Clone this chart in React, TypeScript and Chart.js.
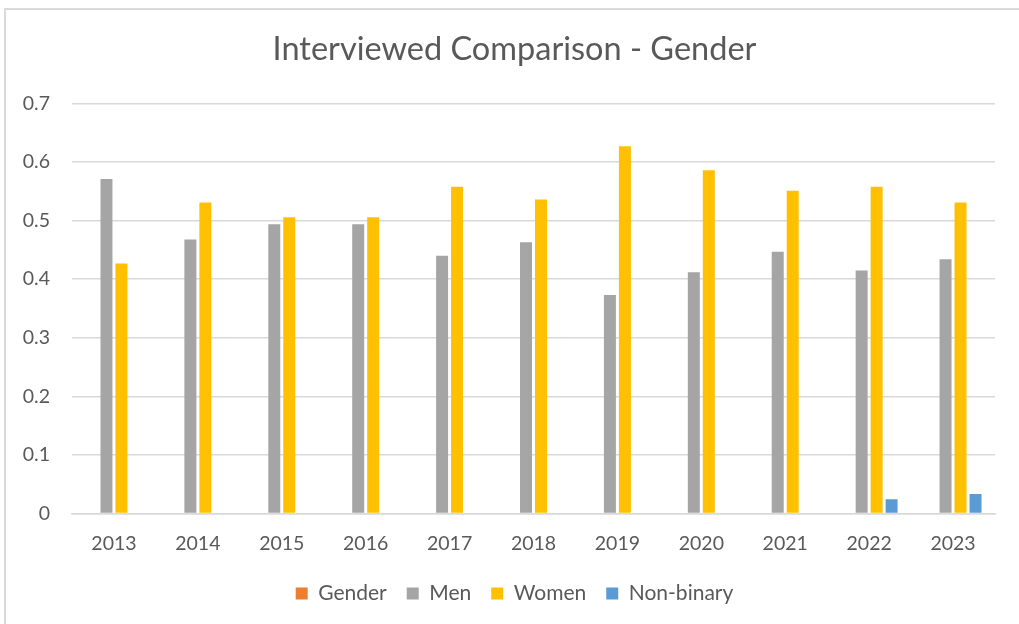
import React, { useEffect, useRef } from "react";
import { Chart, registerables } from "chart.js";

Chart.register(...registerables);

const years = ["2013", "2014", "2015", "2016", "2017", "2018", "2019", "2020", "2021", "2022", "2023"];
const genderValues: (number | null)[] = [null, null, null, null, null, null, null, null, null, null, null];
const menValues = [0.571, 0.468, 0.494, 0.494, 0.44, 0.463, 0.373, 0.412, 0.447, 0.415, 0.434];
const womenValues = [0.427, 0.531, 0.506, 0.506, 0.558, 0.536, 0.627, 0.586, 0.551, 0.558, 0.531];
const nonBinaryValues: (number | null)[] = [null, null, null, null, null, null, null, null, null, 0.0245, 0.0335];

const TEXT = "#595959";
const GRID = "#d9d9d9";
const FONT = "Lato, Carlito, 'Liberation Sans', sans-serif";

// Centre the title and legend on the whole frame rather than on the plot box
const recenterPlugin = {
  id: "recenter",
  afterLayout(chart: any) {
    const shift = 17;
    const boxes = [chart.titleBlock, chart.legend];
    boxes.forEach((b: any) => {
      if (b) {
        b.left += shift;
        b.right += shift;
      }
    });
  },
};

export default function App() {
  const ref = useRef<HTMLCanvasElement | null>(null);

  useEffect(() => {
    document.body.style.margin = "0";
    const ctx = ref.current!.getContext("2d")!;
    const chart = new Chart(ctx, {
      type: "bar",
      data: {
        labels: years,
        datasets: [
          { label: "Gender", data: genderValues, backgroundColor: "#ED7D31" },
          { label: "Men", data: menValues, backgroundColor: "#A5A5A5" },
          { label: "Women", data: womenValues, backgroundColor: "#FFC000" },
          { label: "Non-binary", data: nonBinaryValues, backgroundColor: "#5B9BD5" },
        ],
      },
      plugins: [recenterPlugin],
      options: {
        animation: false,
        responsive: false,
        maintainAspectRatio: false,
        devicePixelRatio: 1,
        layout: { padding: { left: 0, right: 24, top: 0, bottom: 10 } },
        datasets: {
          bar: { categoryPercentage: 0.714, barPercentage: 0.8 },
        },
        plugins: {
          title: {
            display: true,
            text: "Interviewed Comparison - Gender",
            color: TEXT,
            font: { family: FONT, size: 32.5, weight: "normal", lineHeight: 1.2 },
            padding: { top: 30.5, bottom: 34 },
          },
          legend: {
            position: "bottom",
            labels: {
              color: TEXT,
              font: { family: FONT, size: 21 },
              boxWidth: 12,
              boxHeight: 12,
              padding: 20,
            },
          },
          tooltip: { enabled: false },
        },
        scales: {
          x: {
            grid: { display: false, drawTicks: false },
            border: { display: true, color: GRID, width: 1.5 },
            ticks: {
              color: TEXT,
              font: { family: FONT, size: 19.5 },
              padding: 18.5,
              maxRotation: 0,
            },
            afterFit: (scale: any) => {
              scale.height = 49.5;
            },
          },
          y: {
            min: 0,
            max: 0.7,
            grid: { color: GRID, lineWidth: 1.5, drawTicks: false },
            border: { display: false },
            ticks: {
              stepSize: 0.1,
              color: TEXT,
              font: { family: FONT, size: 19.5 },
              padding: 22,
              callback: (v: any) => {
                const n = Math.round(Number(v) * 10) / 10;
                return n === 0 ? "0" : n.toFixed(1);
              },
            },
            afterFit: (scale: any) => {
              scale.width = 72;
            },
          },
        },
      },
    });
    return () => chart.destroy();
  }, []);

  return (
    <div style={{ position: "fixed", left: 0, top: 0, width: 1019, height: 624, background: "#fff", overflow: "hidden" }}>
      <canvas ref={ref} width={1019} height={624} style={{ position: "absolute", left: 0, top: 0, width: 1019, height: 624 }} />
      <div
        style={{
          position: "absolute",
          left: 4,
          top: 8,
          width: 1100,
          height: 700,
          border: "2px solid #d9d9d9",
          pointerEvents: "none",
        }}
      />
    </div>
  );
}
